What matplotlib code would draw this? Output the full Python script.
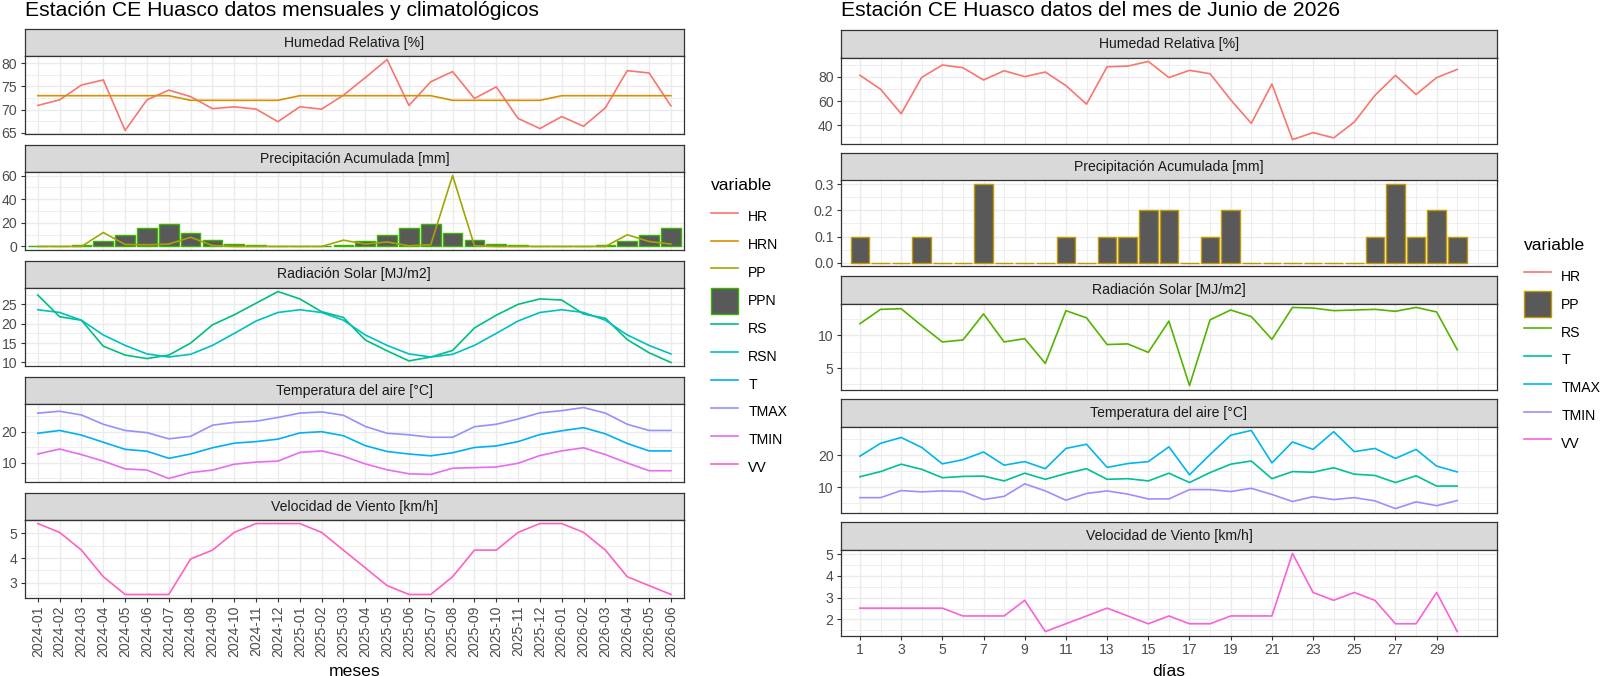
import matplotlib.pyplot as plt
import numpy as np
from matplotlib.lines import Line2D
from matplotlib.patches import Patch
from matplotlib.ticker import MultipleLocator, FixedLocator

plt.rcParams['font.family'] = ['Liberation Sans', 'DejaVu Sans']

# --- datos mensuales y climatologicos (izquierda) ---
meses = ['2024-01', '2024-02', '2024-03', '2024-04', '2024-05', '2024-06',
         '2024-07', '2024-08', '2024-09', '2024-10', '2024-11', '2024-12',
         '2025-01', '2025-02', '2025-03', '2025-04', '2025-05', '2025-06',
         '2025-07', '2025-08', '2025-09', '2025-10', '2025-11', '2025-12',
         '2026-01', '2026-02', '2026-03', '2026-04', '2026-05', '2026-06']
hr = [70.9, 72.1, 75.3, 76.4, 65.5, 72.1, 74.2, 72.8, 70.2, 70.6, 70.1, 67.4,
      70.6, 70.1, 73.1, 76.9, 80.8, 70.9, 76.0, 78.2, 72.4, 74.9, 68.1, 65.9,
      68.5, 66.4, 70.4, 78.4, 77.9, 70.8]
hrn = [73, 73, 73, 73, 73, 73, 73, 72, 72, 72, 72, 72,
       73, 73, 73, 73, 73, 73, 73, 72, 72, 72, 72, 72,
       73, 73, 73, 73, 73, 73]
pp = [0, 0, 0, 11.8, 1.7, 1.4, 2.0, 7.8, 0.8, 0, 0, 0,
      0, 0, 5.3, 2.0, 3.8, 0.6, 1.5, 60.0, 0.6, 0, 0, 0,
      0, 0, 0, 9.9, 4.2, 2.0]
ppn = [0, 0, 1.4, 4.4, 9.4, 15.3, 19.4, 11.1, 5.3, 2.2, 1.4, 0.2,
       0, 0, 1.4, 4.4, 9.4, 15.3, 19.4, 11.1, 5.3, 2.2, 1.4, 0.2,
       0, 0, 1.4, 4.4, 9.4, 15.3]
rs = [27.4, 21.8, 20.9, 14.2, 11.9, 11.0, 11.9, 15.0, 19.7, 22.3, 25.3, 28.3,
      26.4, 23.1, 21.6, 15.8, 13.0, 10.4, 11.4, 13.1, 18.9, 22.2, 25.0, 26.4,
      26.1, 22.5, 21.4, 15.9, 12.5, 10.0]
rsn = [23.6, 22.9, 20.9, 17.1, 14.4, 12.2, 11.4, 12.1, 14.4, 17.5, 20.7, 22.9,
       23.6, 22.9, 20.9, 17.1, 14.4, 12.2, 11.4, 12.1, 14.4, 17.5, 20.7, 22.9,
       23.6, 22.9, 20.9, 17.1, 14.4, 12.2]
t = [19.5, 20.4, 18.9, 16.6, 14.3, 13.7, 11.4, 12.8, 14.8, 16.3, 16.8, 17.6,
     19.6, 20.0, 18.7, 15.5, 13.6, 12.8, 12.2, 13.2, 14.9, 15.4, 16.8, 19.1,
     20.3, 21.3, 19.3, 16.2, 13.8, 13.8]
tmax = [26.0, 26.6, 25.4, 22.4, 20.4, 19.7, 17.7, 18.5, 22.1, 23.0, 23.4, 24.6,
        26.0, 26.4, 25.3, 21.7, 19.5, 19.0, 18.2, 18.2, 21.6, 22.4, 24.1, 26.1,
        26.8, 27.8, 26.0, 22.4, 20.4, 20.4]
tmin = [12.8, 14.4, 12.6, 10.5, 8.0, 7.6, 4.9, 6.8, 7.6, 9.5, 10.2, 10.5,
        13.3, 13.8, 12.1, 9.6, 7.7, 6.4, 6.2, 8.2, 8.4, 8.6, 9.8, 12.3,
        13.8, 14.8, 12.6, 9.9, 7.4, 7.4]
vv = [5.40, 5.04, 4.32, 3.24, 2.52, 2.52, 2.52, 3.96, 4.32, 5.04, 5.40, 5.40,
      5.40, 5.04, 4.32, 3.60, 2.88, 2.52, 2.52, 3.24, 4.32, 4.32, 5.04, 5.40,
      5.40, 5.04, 4.32, 3.24, 2.88, 2.52]

# --- datos diarios, junio 2026 (derecha) ---
dias = list(range(1, 31))
dias_ticks = list(range(1, 30, 2))
hr_d = [81.4, 69.9, 49.6, 79.7, 89.9, 87.7, 77.5, 85.2, 80.3, 84.1,
        72.9, 57.5, 88.5, 89.0, 92.9, 79.5, 85.5, 82.7, 61.1, 41.6,
        74.2, 28.2, 34.0, 29.6, 42.7, 64.7, 81.4, 65.5, 79.5, 86.3]
pp_d = [0.1, 0, 0, 0.1, 0, 0, 0.3, 0, 0, 0,
        0.1, 0, 0.1, 0.1, 0.2, 0.2, 0, 0.1, 0.2, 0,
        0, 0, 0, 0, 0, 0.1, 0.3, 0.1, 0.2, 0.1]
rs_d = [11.8, 14.0, 14.1, 11.5, 9.0, 9.3, 13.3, 9.0, 9.5, 5.7,
        13.8, 12.7, 8.6, 8.7, 7.4, 12.2, 2.3, 12.4, 13.9, 12.9,
        9.4, 14.3, 14.2, 13.8, 13.9, 14.0, 13.7, 14.3, 13.6, 7.8]
t_d = [13.3, 14.9, 17.2, 15.6, 13.0, 13.4, 13.5, 12.0, 14.4, 12.5,
       14.3, 15.8, 12.5, 12.7, 12.0, 14.4, 11.5, 14.6, 17.2, 18.2,
       12.7, 14.9, 14.7, 16.1, 14.1, 13.7, 11.5, 13.6, 10.4, 10.4]
tmax_d = [19.7, 23.7, 25.5, 22.4, 17.3, 18.6, 21.0, 16.9, 18.0, 15.8,
          22.1, 23.4, 16.2, 17.4, 18.0, 22.6, 13.9, 20.2, 26.2, 27.7,
          17.6, 24.1, 21.8, 27.3, 21.1, 22.1, 19.0, 21.8, 16.6, 14.8]
tmin_d = [6.8, 6.8, 9.0, 8.6, 8.9, 8.7, 6.2, 7.2, 11.1, 8.9,
          6.0, 8.1, 8.9, 7.9, 6.4, 6.4, 9.3, 9.3, 8.7, 9.7,
          7.8, 5.6, 7.1, 6.2, 6.8, 5.8, 3.4, 5.5, 4.3, 5.9]
vv_d = [2.52, 2.52, 2.52, 2.52, 2.52, 2.16, 2.16, 2.16, 2.88, 1.44,
        1.80, 2.16, 2.52, 2.16, 1.80, 2.16, 1.80, 1.80, 2.16, 2.16,
        2.16, 5.04, 3.24, 2.88, 3.24, 2.88, 1.80, 1.80, 3.24, 1.44]

# colores ggplot (hue_pal) para 10 y 7 niveles
col10 = {'HR': '#F8766D', 'HRN': '#D89000', 'PP': '#A3A500', 'PPN': '#39B600',
         'RS': '#00BF7D', 'RSN': '#00BFC4', 'T': '#00B0F6', 'TMAX': '#9590FF',
         'TMIN': '#E76BF3', 'VV': '#FF62BC'}
col7 = {'HR': '#F8766D', 'PP': '#C49A00', 'RS': '#53B400', 'T': '#00C094',
        'TMAX': '#00B6EB', 'TMIN': '#A58AFF', 'VV': '#FB61D7'}
BAR_FILL = '#595959'
LW = 1.2
FS = 10.1      # texto de ejes, strips y leyenda
FT = 12.6      # titulos de ejes y de leyenda
FTIT = 15.2    # titulo de cada grafico

W, H = 1600, 676
fig = plt.figure(figsize=(W / 100, H / 100), dpi=100)


def box(x0, y0, x1, y1):
    return fig.add_axes([x0 / W, 1 - y1 / H, (x1 - x0) / W, (y1 - y0) / H])


def panel(x0, x1, top, sh, ph, titulo, ymaj, ymin_step):
    st = box(x0, top, x1, top + sh)
    st.set_facecolor('#D9D9D9')
    st.set_xticks([])
    st.set_yticks([])
    for s in st.spines.values():
        s.set_color('#333333')
        s.set_linewidth(0.9)
    st.text(0.5, 0.5, titulo, ha='center', va='center', fontsize=FS,
            color='#1A1A1A', transform=st.transAxes)
    ax = box(x0, top + sh, x1, top + sh + ph)
    for s in ax.spines.values():
        s.set_color('#333333')
        s.set_linewidth(0.9)
    ax.set_axisbelow(True)
    ax.yaxis.set_major_locator(MultipleLocator(ymaj))
    ax.yaxis.set_minor_locator(MultipleLocator(ymin_step))
    ax.grid(which='major', color='#EBEBEB', lw=1.0)
    ax.grid(which='minor', color='#EBEBEB', lw=0.6)
    ax.tick_params(axis='y', which='major', length=3.2, width=0.8, color='#333333',
                   labelsize=FS, labelcolor='#4D4D4D', pad=2.2)
    ax.tick_params(axis='both', which='minor', length=0)
    ax.tick_params(axis='x', which='major', length=0, labelbottom=False)
    return ax


def leyenda(colores, clave_barra, x, y_tit, y_top):
    fig.text(x / W, 1 - y_tit / H, 'variable', ha='left', va='center', fontsize=FT)
    hs = []
    for k in colores:
        if k == clave_barra:
            hs.append(Patch(facecolor=BAR_FILL, edgecolor=colores[k], lw=1.0, label=k))
        else:
            hs.append(Line2D([], [], color=colores[k], lw=LW, label=k))
    fig.legend(handles=hs, loc='upper left', bbox_to_anchor=(x / W, 1 - y_top / H),
               frameon=False, fontsize=FS, handlelength=1.95, handleheight=2.48,
               handletextpad=0.7, labelspacing=0.13, borderpad=0, borderaxespad=0)


ltit = ['Humedad Relativa [%]', 'Precipitación Acumulada [mm]', 'Radiación Solar [MJ/m2]',
        'Temperatura del aire [°C]', 'Velocidad de Viento [km/h]']

# ================= izquierda =================
xm = np.arange(len(meses))
LX0, LX1 = 24.7, 684
ltops = [29, 145, 261, 377, 493]
lsh, lph = 27, 78
lmaj = [(5, 2.5), (20, 10), (5, 2.5), (10, 5), (1, 0.5)]
laxes = []
for top, tit, (mj, mn) in zip(ltops, ltit, lmaj):
    ax = panel(LX0, LX1, top, lsh, lph, tit, mj, mn)
    ax.set_xticks(xm)
    ax.set_xlim(-0.6, 29.6)
    laxes.append(ax)

laxes[0].plot(xm, hr, color=col10['HR'], lw=LW)
laxes[0].plot(xm, hrn, color=col10['HRN'], lw=LW)
laxes[1].use_sticky_edges = False
laxes[1].bar(xm, ppn, width=0.9, color=BAR_FILL, edgecolor=col10['PPN'], lw=1.0)
laxes[1].plot(xm, pp, color=col10['PP'], lw=LW)
laxes[1].autoscale_view()
laxes[2].plot(xm, rs, color=col10['RS'], lw=LW)
laxes[2].plot(xm, rsn, color=col10['RSN'], lw=LW)
laxes[3].plot(xm, t, color=col10['T'], lw=LW)
laxes[3].plot(xm, tmax, color=col10['TMAX'], lw=LW)
laxes[3].plot(xm, tmin, color=col10['TMIN'], lw=LW)
laxes[4].plot(xm, vv, color=col10['VV'], lw=LW)

axb = laxes[-1]
axb.tick_params(axis='x', which='major', length=3.2, width=0.8, color='#333333',
                labelbottom=True, labelsize=FS, labelcolor='#4D4D4D', pad=2.2)
axb.set_xticklabels(meses, rotation=90, ha='center', va='top')

fig.text(LX0 / W, 1 - 1 / H, 'Estación CE Huasco datos mensuales y climatológicos',
         ha='left', va='top', fontsize=FTIT)
fig.text((LX0 + LX1) / 2 / W, 1 - 676 / H, 'meses', ha='center', va='baseline', fontsize=FT)
leyenda(col10, 'PPN', 711, 186, 204)

# ================= derecha =================
RX0, RX1 = 841, 1497
rtops = [30, 153, 276, 399, 522]
rsh, rph = 27.5, 86
rmaj = [(20, 10), (0.1, 0.05), (5, 2.5), (10, 5), (1, 0.5)]
raxes = []
for top, tit, (mj, mn) in zip(rtops, ltit, rmaj):
    ax = panel(RX0, RX1, top, rsh, rph, tit, mj, mn)
    ax.set_xticks(dias_ticks)
    ax.xaxis.set_minor_locator(FixedLocator([d for d in range(0, 32) if d not in dias_ticks]))
    ax.set_xlim(0.08, 31.93)
    raxes.append(ax)

raxes[0].plot(dias, hr_d, color=col7['HR'], lw=LW)
raxes[1].use_sticky_edges = False
raxes[1].bar(dias, pp_d, width=0.9, color=BAR_FILL, edgecolor=col7['PP'], lw=1.0)
raxes[1].autoscale_view()
raxes[1].yaxis.set_major_formatter(plt.FormatStrFormatter('%.1f'))
raxes[2].plot(dias, rs_d, color=col7['RS'], lw=LW)
raxes[3].plot(dias, t_d, color=col7['T'], lw=LW)
raxes[3].plot(dias, tmax_d, color=col7['TMAX'], lw=LW)
raxes[3].plot(dias, tmin_d, color=col7['TMIN'], lw=LW)
raxes[4].plot(dias, vv_d, color=col7['VV'], lw=LW)

axr = raxes[-1]
axr.tick_params(axis='x', which='major', length=3.2, width=0.8, color='#333333',
                labelbottom=True, labelsize=FS, labelcolor='#4D4D4D', pad=2.2)

fig.text(RX0 / W, 1 - 1 / H, 'Estación CE Huasco datos del mes de Junio de 2026',
         ha='left', va='top', fontsize=FTIT)
fig.text((RX0 + RX1) / 2 / W, 1 - 676 / H, 'días', ha='center', va='baseline', fontsize=FT)
leyenda(col7, 'PP', 1524, 246, 263.5)

fig.savefig('out.png', dpi=100)
